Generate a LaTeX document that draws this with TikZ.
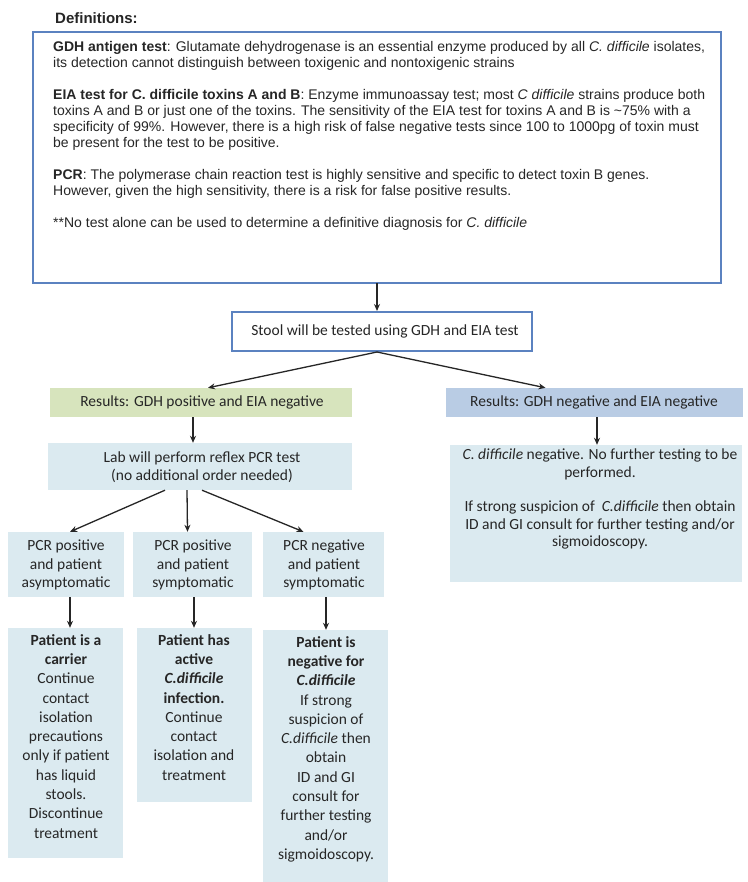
\documentclass[tikz,border=0pt]{standalone}
\usepackage{fontspec}
\setmainfont{Liberation Sans}
\newfontfamily\calfont{Carlito}
\usetikzlibrary{arrows.meta}
\definecolor{txt}{HTML}{262626}
\definecolor{bord}{HTML}{5B82C0}
\definecolor{pale}{HTML}{DBEAF0}
\definecolor{grn}{HTML}{D7E4BD}
\definecolor{stl}{HTML}{B9CCE4}
\tikzset{
  defl/.style={anchor=base west, inner sep=0, font=\fontsize{14}{16}\selectfont, text=txt},
  framebox/.style={draw=bord, line width=2pt, fill=white, inner sep=0},
  fillbox/.style={draw=none, inner sep=0},
  ctext/.style={inner sep=0, align=center, text=txt, font=\calfont\fontsize{15.5}{18.5}\selectfont},
  otext/.style={inner sep=0, align=center, text=txt, anchor=north, font=\calfont\fontsize{15.5}{19.3}\selectfont},
  arr/.style={-{Stealth[length=7pt,width=6pt]}, line width=1.3pt, draw=txt}
}
\begin{document}
\begin{tikzpicture}[x=1pt,y=-1pt]
\useasboundingbox[fill=white] (0,0) rectangle (747,882);

% Definitions
\node[defl, font=\bfseries\fontsize{15}{17}\selectfont] (deftitle) at (55,24) {Definitions:};
\node[framebox, minimum width=688pt, minimum height=251pt] (defs) at (377,157.5) {};
\node[defl] (d1) at (53,51.5) {\textbf{GDH antigen test}: Glutamate dehydrogenase is an essential enzyme produced by all \textit{C. difficile} isolates,};
\node[defl] (d2) at (53,67.5) {its detection cannot distinguish between toxigenic and nontoxigenic strains};
\node[defl] (d3) at (53,99.5) {\textbf{EIA test for C. difficile toxins A and B}: Enzyme immunoassay test; most \textit{C difficile} strains produce both};
\node[defl] (d4) at (53,115.5) {toxins A and B or just one of the toxins. The sensitivity of the EIA test for toxins A and B is \textasciitilde75\% with a};
\node[defl] (d5) at (53,131.5) {specificity of 99\%. However, there is a high risk of false negative tests since 100 to 1000pg of toxin must};
\node[defl] (d6) at (53,147.5) {be present for the test to be positive.};
\node[defl] (d7) at (53,179.5) {\textbf{PCR}: The polymerase chain reaction test is highly sensitive and specific to detect toxin B genes.};
\node[defl] (d8) at (53,195.5) {However, given the high sensitivity, there is a risk for false positive results.};
\node[defl] (d9) at (53,227.5) {**No test alone can be used to determine a definitive diagnosis for \textit{C. difficile}};

% Stool box
\node[framebox, minimum width=300pt, minimum height=39pt] (stool) at (382,331.5) {};
\node[ctext] (stooltxt) at (385,331.5) {Stool will be tested using GDH and EIA test};

% Results boxes
\node[fillbox, fill=grn, minimum width=302pt, minimum height=29pt] (lres) at (201,402.5) {};
\node[ctext] (lrestxt) at (202,402.5) {Results: GDH positive and EIA negative};
\node[fillbox, fill=stl, minimum width=297pt, minimum height=29pt] (rres) at (594.5,402.5) {};
\node[ctext] (rrestxt) at (594,402.5) {Results: GDH negative and EIA negative};

% Lab box
\node[fillbox, fill=pale, minimum width=304pt, minimum height=47pt] (lab) at (200,466.5) {};
\node[ctext] (labtxt) at (202,467) {Lab will perform reflex PCR test\\(no additional order needed)};

% Right box
\node[fillbox, fill=pale, minimum width=292pt, minimum height=137pt] (rbox) at (596,513.5) {};
\node[otext, font=\calfont\fontsize{15.5}{17.5}\selectfont] (rboxtxt) at (600,449) {\textit{C. difficile} negative. No further testing to be\\performed.\\[17pt]If strong suspicion of \ \textit{C.difficile} then obtain\\ID and GI consult for further testing and/or\\sigmoidoscopy.};

% PCR boxes
\node[fillbox, fill=pale, minimum width=116pt, minimum height=65pt] (p1) at (66,564.5) {};
\node[fillbox, fill=pale, minimum width=119pt, minimum height=65pt] (p2) at (192.5,564.5) {};
\node[fillbox, fill=pale, minimum width=121pt, minimum height=65pt] (p3) at (323.5,564.5) {};
\node[ctext] (p1t) at (66,565) {PCR positive\\and patient\\asymptomatic};
\node[ctext] (p2t) at (193,565) {PCR positive\\and patient\\symptomatic};
\node[ctext] (p3t) at (324,565) {PCR negative\\and patient\\symptomatic};

% Outcome boxes
\node[fillbox, fill=pale, minimum width=115pt, minimum height=230pt] (o1) at (65.5,743) {};
\node[fillbox, fill=pale, minimum width=115pt, minimum height=174pt] (o2) at (194.5,715) {};
\node[fillbox, fill=pale, minimum width=125pt, minimum height=252pt] (o3) at (325.5,756) {};
\node[otext] (o1t) at (66,634) {\textbf{Patient is a}\\\textbf{carrier}\\Continue\\contact\\isolation\\precautions\\only if patient\\has liquid\\stools.\\Discontinue\\treatment};
\node[otext] (o2t) at (194,634) {\textbf{Patient has}\\\textbf{active}\\\textbf{\textit{C.difficile}}\\\textbf{infection.}\\Continue\\contact\\isolation and\\treatment};
\node[otext] (o3t) at (326,636) {\textbf{Patient is}\\\textbf{negative for}\\\textbf{\textit{C.difficile}}\\If strong\\suspicion of\\\textit{C.difficile} then\\obtain\\ID and GI\\consult for\\further testing\\and/or\\sigmoidoscopy.};

% Connectors
\coordinate (dstart) at (377,283);
\draw[arr] (dstart) -- (stool.north -| dstart);
\draw[arr] (stool.south -| dstart) -- ([xshift=7pt]lres.north);
\draw[arr] (stool.south -| dstart) -- ([xshift=-49pt]rres.north);
\draw[arr] ([xshift=-8pt]lres.south) -- ([xshift=-7pt]lab.north);
\draw[arr] ([xshift=2.5pt]rres.south) -- ([xshift=1pt]rbox.north);
\draw[arr] ([xshift=-35pt]lab.south) -- ([xshift=4pt]p1.north);
\draw[arr] ([xshift=-13pt]lab.south) -- ([xshift=-5pt]p2.north);
\draw[arr] ([xshift=2pt]lab.south) -- ([xshift=-20pt]p3.north);
\draw[arr] ([xshift=4pt]p1.south) -- ([xshift=4.5pt]o1.north);
\draw[arr] ([xshift=1.5pt]p2.south) -- ([xshift=-0.5pt]o2.north);
\draw[arr] ([xshift=2.5pt]p3.south) -- ([xshift=0.5pt]o3.north);
\end{tikzpicture}
\end{document}
